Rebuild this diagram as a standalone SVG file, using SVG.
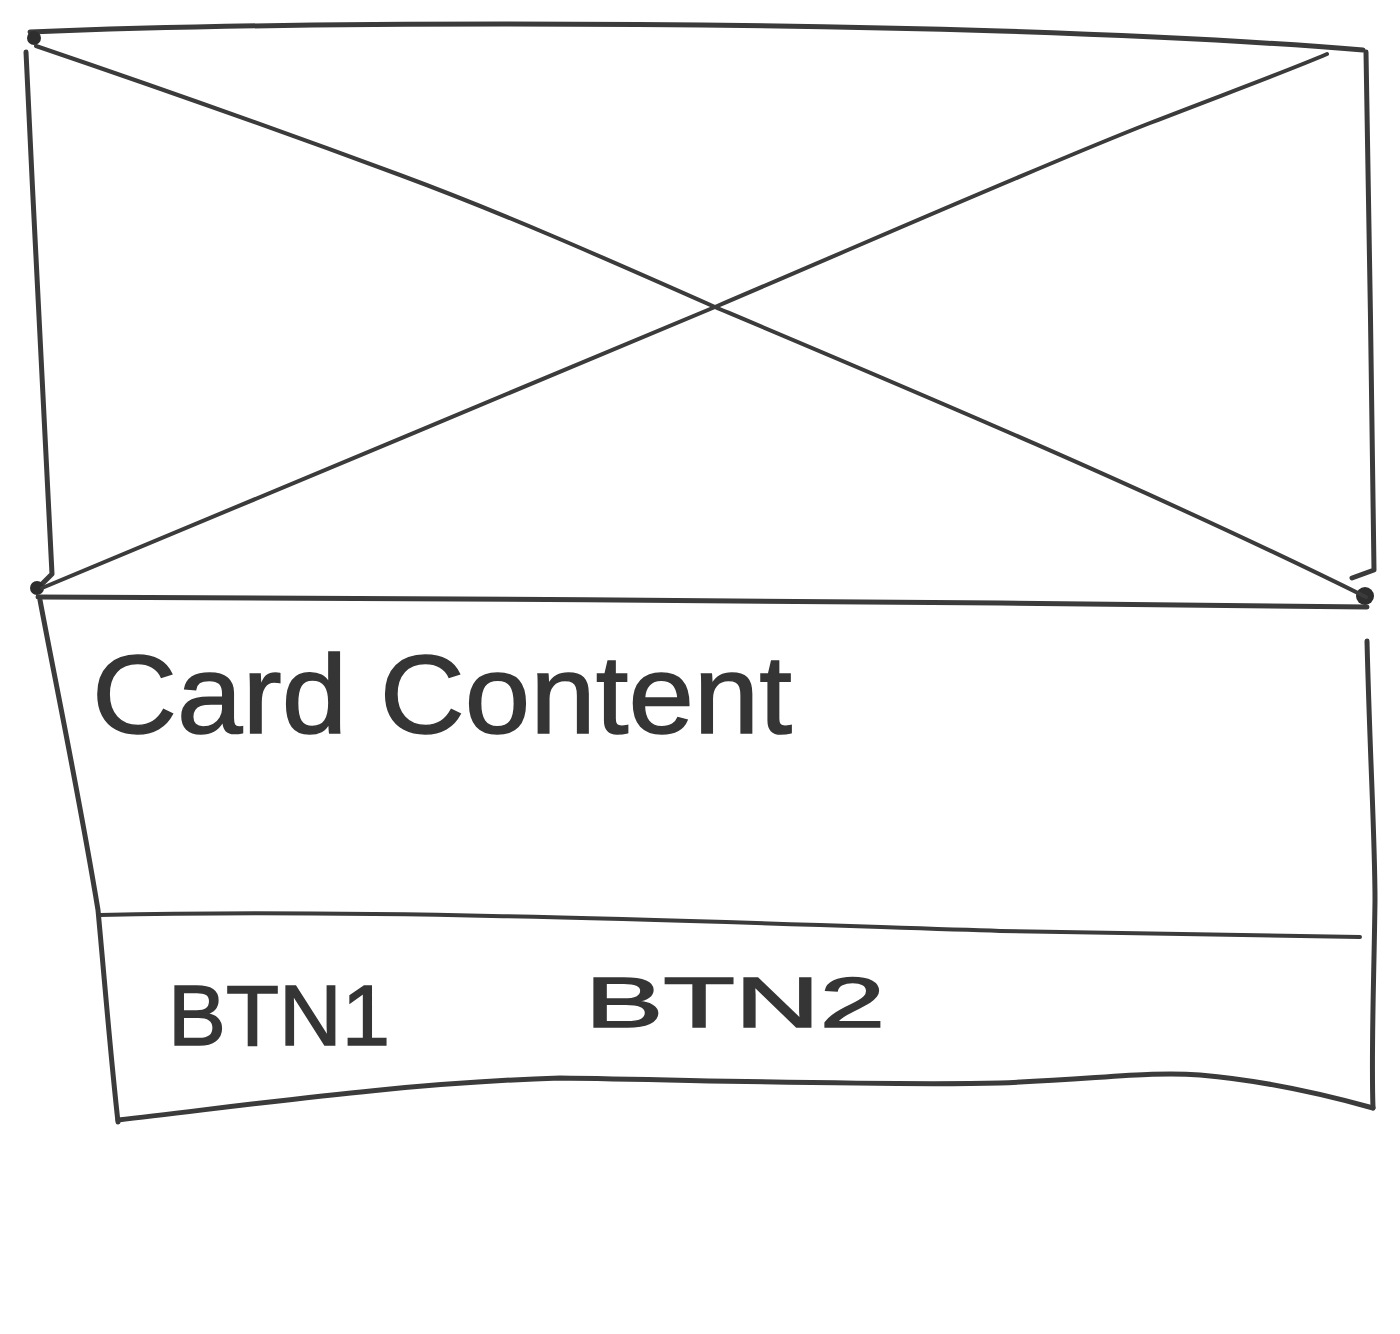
<svg xmlns="http://www.w3.org/2000/svg" width="1400" height="1334" viewBox="0 0 1400 1334">
  <style>
    .ink { fill: none; stroke: #3b3b3b; stroke-width: 5; stroke-linecap: round; stroke-linejoin: round; }
    .thin { stroke-width: 4; }
    .blot { fill: #2e2e2e; }
    .hand { font-family: "Liberation Sans", "DejaVu Sans", sans-serif; fill: #353535; stroke: #353535; stroke-width: 1.5; }
  </style>
  <rect width="1400" height="1334" fill="#ffffff"/>

  <!-- image placeholder: box with a cross through it -->
  <g id="image-placeholder">
    <path class="ink" d="M30,32 C 300,21 700,22 1000,31 C 1150,36 1280,43 1363,50"/>
    <path class="ink" d="M26,52 C 34,230 45,420 52,574 L 40,586"/>
    <path class="ink" d="M1366,52 C 1369,200 1372,420 1374,570 L 1352,578"/>
    <path class="ink" d="M38,597 C 300,598 700,600 1000,603 C 1150,604 1280,606 1367,607"/>
    <circle class="blot" cx="34" cy="38" r="7"/>
    <circle class="blot" cx="37" cy="588" r="7"/>
    <circle class="blot" cx="1365" cy="596" r="9"/>
  </g>

  <!-- diagonals of the placeholder cross -->
  <g id="connectors">
    <path class="ink thin" d="M36,46 C 180,95 300,138 400,175 C 500,212 600,256 715,307 C 900,385 1150,490 1366,597"/>
    <path class="ink thin" d="M42,588 C 250,500 500,398 715,307 C 900,228 1050,162 1150,123 C 1230,92 1290,70 1327,54"/>
  </g>

  <!-- card body: content area and action row -->
  <g id="card-content">
    <path class="ink" d="M40,600 C 55,680 80,800 98,910 C 105,985 110,1050 118,1122"/>
    <path class="ink" d="M1367,641 C 1370,760 1375,840 1375,900 C 1374,980 1371,1050 1373,1108"/>
    <text class="hand" x="92" y="733" font-size="112" textLength="700" lengthAdjust="spacingAndGlyphs">Card Content</text>
  </g>

  <g id="card-actions">
    <path class="ink thin" d="M100,915 C 400,908 800,925 1000,931 C 1150,934 1280,936 1360,937"/>
    <path class="ink" d="M118,1120 C 250,1105 400,1083 560,1078 C 700,1080 880,1086 1000,1083 C 1100,1079 1150,1071 1200,1075 C 1270,1081 1330,1096 1373,1108"/>
    <text class="hand" x="168" y="1045" font-size="86" textLength="222" lengthAdjust="spacingAndGlyphs">BTN1</text>
    <text class="hand" x="585" y="1027" font-size="70" textLength="300" lengthAdjust="spacingAndGlyphs">BTN2</text>
  </g>
</svg>
